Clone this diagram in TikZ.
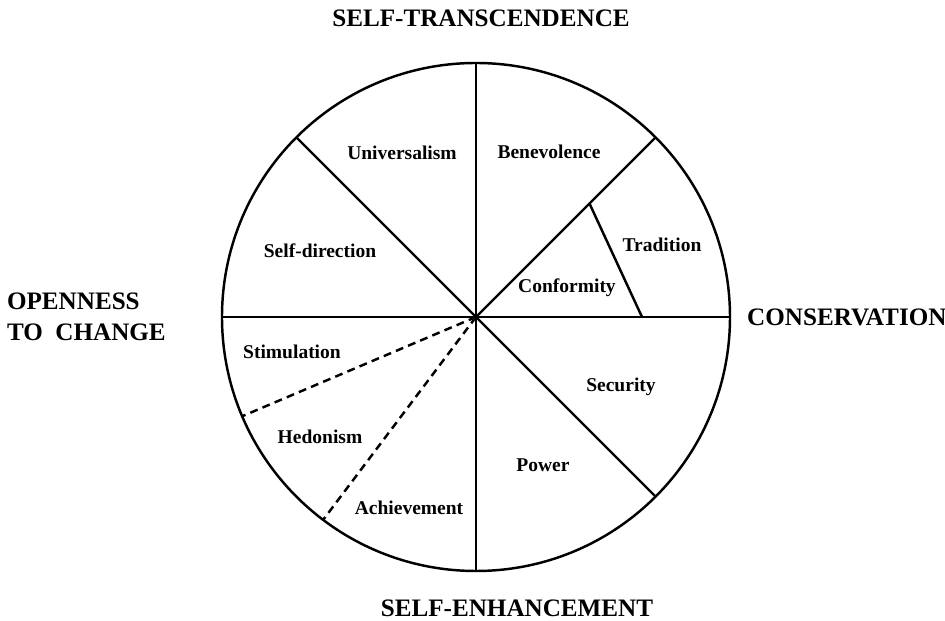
\documentclass[tikz,border=0pt]{standalone}
\usepackage{fontspec}
\setmainfont{Liberation Serif}
\usetikzlibrary{positioning}

\tikzset{
  value/.style={font=\fontsize{11.1}{13}\selectfont\bfseries, inner sep=0pt},
  pole/.style={font=\fontsize{14.3}{17.5}\selectfont\bfseries, inner sep=0pt, align=left},
}

\begin{document}
\begin{tikzpicture}[line width=1.4pt]
\useasboundingbox (-9.52,-6.08) rectangle (9.38,6.34);

\node (wheel) [draw, circle, minimum size=10.16cm, inner sep=0pt, outer sep=0pt] at (0,0) {};

\foreach \a in {0,45,90,135,180,270,315}
  \draw (wheel.center) -- (wheel.\a);
\foreach \a in {203,233}
  \draw[dash pattern=on 4.5pt off 3pt] (wheel.center) -- (wheel.\a);

\coordinate (tradtop) at (45:3.21);
\coordinate (tradbottom) at (0:3.32);
\draw (tradtop) -- (tradbottom);
\fill (wheel.center) circle (1.6pt);

% the four higher order values
\node (transcendence) [pole, above=0.7cm of wheel, xshift=0.1cm] {SELF-TRANSCENDENCE};
\node (enhancement) [pole, below=0.55cm of wheel, xshift=0.82cm] {SELF-ENHANCEMENT};
\node (conservation) [pole, right=0.32cm of wheel] {CONSERVATION};
\node (openness) [pole, left=1.1cm of wheel] {OPENNESS\\TO~ CHANGE};

% the ten values
\node (universalism) [value] at (-1.48,3.28) {Universalism};
\node (benevolence) [value] at (1.46,3.30) {Benevolence};
\node (selfdirection) [value] at (-3.12,1.32) {Self-direction};
\node (tradition) [value] at (3.72,1.44) {Tradition};
\node (conformity) [value] at (1.82,0.58) {Conformity};
\node (stimulation) [value] at (-3.68,-0.70) {Stimulation};
\node (security) [value] at (2.90,-1.40) {Security};
\node (hedonism) [value] at (-3.12,-2.40) {Hedonism};
\node (power) [value] at (1.34,-2.96) {Power};
\node (achievement) [value] at (-1.34,-3.82) {Achievement};
\end{tikzpicture}
\end{document}
